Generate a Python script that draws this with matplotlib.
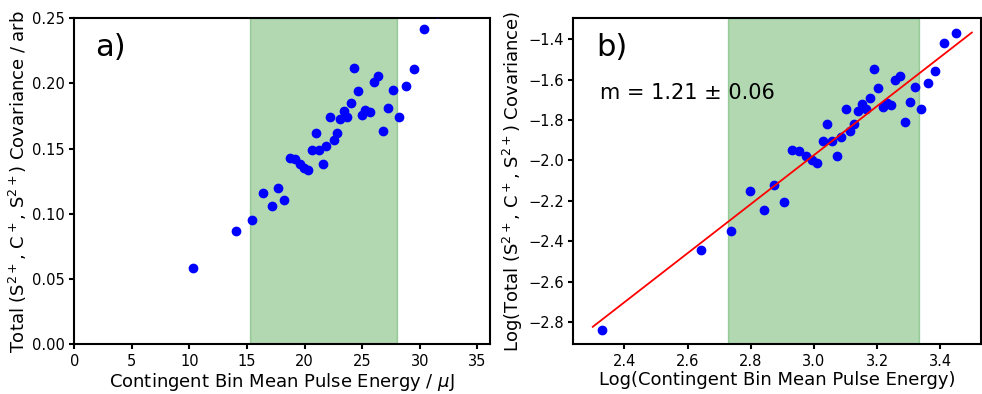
import numpy as np
import matplotlib
matplotlib.use("Agg")
import matplotlib.pyplot as plt

# contingent bin mean pulse energy (uJ) and total covariance (arb)
energy = [10.28, 14.04, 15.47, 16.41, 17.13, 17.72, 18.25, 18.73, 19.16, 19.57,
          19.95, 20.29, 20.64, 20.95, 21.27, 21.59, 21.89, 22.22, 22.51, 22.81,
          23.10, 23.41, 23.71, 24.00, 24.31, 24.63, 24.98, 25.28, 25.64, 26.00,
          26.34, 26.79, 27.22, 27.69, 28.22, 28.79, 29.46, 30.33, 31.53]
covariance = [0.0586, 0.0870, 0.0953, 0.1162, 0.1057, 0.1198, 0.1102, 0.1427, 0.1416, 0.1382,
              0.1353, 0.1336, 0.1490, 0.1620, 0.1490, 0.1382, 0.1520, 0.1743, 0.1565, 0.1619,
              0.1726, 0.1789, 0.1743, 0.1847, 0.2122, 0.1938, 0.1759, 0.1798, 0.1780, 0.2013,
              0.2054, 0.1635, 0.1810, 0.1947, 0.1746, 0.1983, 0.2108, 0.2420, 0.2539]

# region used for the fit
span_lo = 15.29
span_hi = 28.03

# fit line in log space
fit_slope = 1.213
fit_intercept = -5.613
fit_x = [2.30, 3.50]
fit_label = "m = 1.21 \u00b1 0.06"

energy = np.array(energy)
covariance = np.array(covariance)

plt.rcParams['axes.linewidth'] = 1.5
plt.rcParams['xtick.major.width'] = 1.5
plt.rcParams['ytick.major.width'] = 1.5
plt.rcParams['xtick.labelsize'] = 10.5
plt.rcParams['ytick.labelsize'] = 10.5

fig = plt.figure(figsize=(9.82, 3.94), dpi=100)
ax1 = fig.add_axes([0.0757, 0.127, 0.4233, 0.8266])
ax2 = fig.add_axes([0.584, 0.127, 0.415, 0.8266])

# a)
ax1.axvspan(span_lo, span_hi, color='green', alpha=0.3)
ax1.scatter(energy, covariance, color='b', zorder=3)
ax1.set_xlim(0, 36.1)
ax1.set_ylim(0, 0.25)
ax1.set_xticks(np.arange(0, 36, 5))
ax1.set_yticks(np.arange(0, 0.26, 0.05))
ax1.set_xlabel("Contingent Bin Mean Pulse Energy / $\\mu$J", fontsize=13, labelpad=2)
ax1.set_ylabel("Total (S$^{2+}$, C$^+$, S$^{2+}$) Covariance / arb", fontsize=13, labelpad=2)
ax1.text(0.05, 0.91, "a)", transform=ax1.transAxes, fontsize=22, va='center')

# b)
fx = np.array(fit_x)
ax2.axvspan(np.log(span_lo), np.log(span_hi), color='green', alpha=0.3)
ax2.scatter(np.log(energy), np.log(covariance), color='b', zorder=3)
ax2.plot(fx, fit_slope * fx + fit_intercept, color='red', lw=1.3, zorder=4)
ax2.set_xlim(2.239, 3.529)
ax2.set_ylim(-2.908, -1.297)
ax2.set_xlabel("Log(Contingent Bin Mean Pulse Energy)", fontsize=13, labelpad=2)
ax2.set_ylabel("Log(Total (S$^{2+}$, C$^+$, S$^{2+}$) Covariance)", fontsize=13, labelpad=2)
ax2.text(0.056, 0.91, "b)", transform=ax2.transAxes, fontsize=22, va='center')
ax2.text(0.066, 0.77, fit_label, transform=ax2.transAxes, fontsize=15, va='center')

fig.savefig("out.png", dpi=100)
